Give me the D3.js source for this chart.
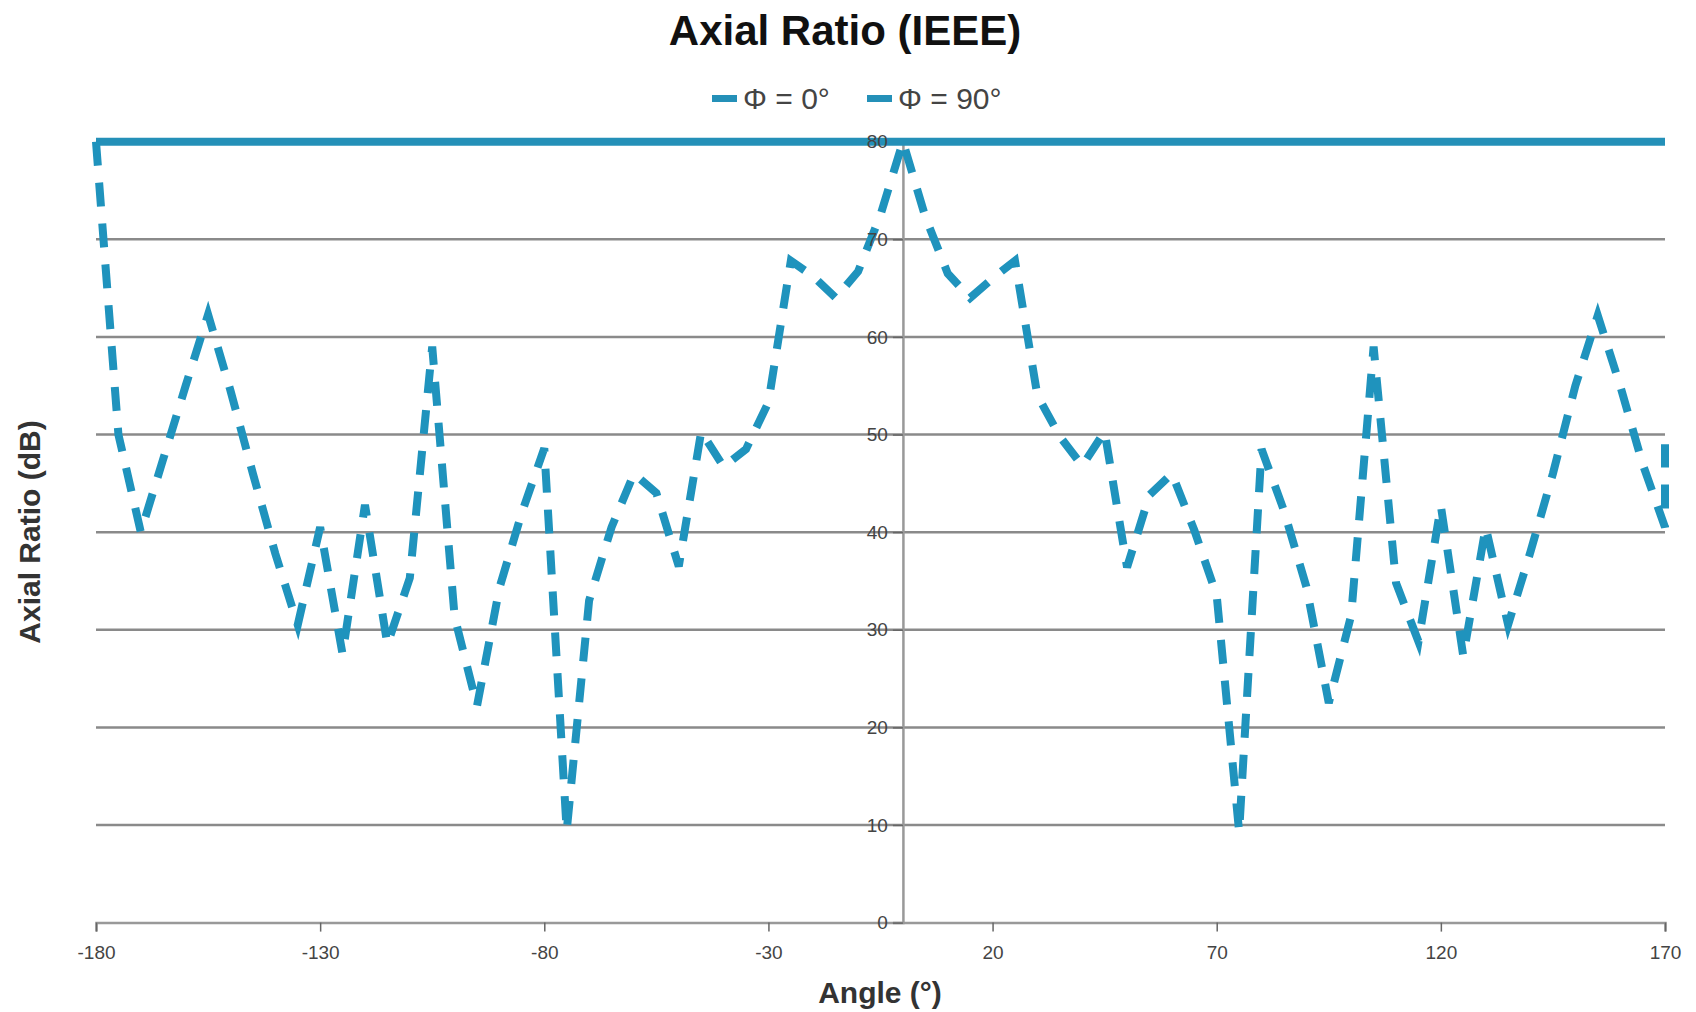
<!DOCTYPE html>
<html>
<head>
<meta charset="utf-8">
<script src="https://cdn.jsdelivr.net/npm/d3@7/dist/d3.min.js"></script>
<style>
    body { margin: 0; background: #fff; }
    svg { display: block; font-family: "Liberation Sans", Arial, sans-serif; }
</style>
</head>
<body>
<svg class="chart"></svg>
<script>
// angles in degrees, one full turn in 5 degree steps
const ANGLES = [-180, -175, -170, -165, -160, -155, -150, -145, -140, -135,
    -130, -125, -120, -115, -110, -105, -100, -95, -90, -85,
    -80, -75, -70, -65, -60, -55, -50, -45, -40, -35,
    -30, -25, -20, -15, -10, -5, 0, 5, 10, 15,
    20, 25, 30, 35, 40, 45, 50, 55, 60, 65,
    70, 75, 80, 85, 90, 95, 100, 105, 110, 115,
    120, 125, 130, 135, 140, 145, 150, 155, 160, 165,
    170, 175
];

// axial ratio in dB
const PHI_0 = [80, 80, 80, 80, 80, 80, 80, 80, 80, 80,
    80, 80, 80, 80, 80, 80, 80, 80, 80, 80,
    80, 80, 80, 80, 80, 80, 80, 80, 80, 80,
    80, 80, 80, 80, 80, 80, 80, 80, 80, 80,
    80, 80, 80, 80, 80, 80, 80, 80, 80, 80,
    80, 80, 80, 80, 80, 80, 80, 80, 80, 80,
    80, 80, 80, 80, 80, 80, 80, 80, 80, 80,
    80, 80
];

const PHI_90 = [80, 50, 40, 47.5, 55, 62.3, 54.5, 46, 37.8, 30.5,
    40.5, 27.5, 42.8, 28.5, 35.3, 59, 31.3, 22.2, 34.3, 42,
    48.6, 9.4, 33, 40.5, 46, 44, 36.5, 50.3, 46.7, 48.5,
    53.3, 67.8, 66.2, 64, 66.7, 72.5, 80, 72.3, 66.5, 64,
    66, 67.8, 54, 49.8, 46.8, 50.3, 36.4, 43.8, 46, 40.2,
    33.5, 9.3, 48.5, 42.2, 34.4, 22.5, 31.5, 59, 34.8, 28.8,
    42.7, 27.3, 40.5, 30.5, 38, 46, 55, 62.2, 55, 47,
    40.5, 49
];

const SERIES_NAMES = ["Φ = 0°", "Φ = 90°"];
const X_TICKS = [-180, -130, -80, -30, 20, 70, 120, 170];
const Y_TICKS = [0, 10, 20, 30, 40, 50, 60, 70, 80];

const WIDTH = 1696;
const HEIGHT = 1012;
const margins = { top: 141.7, right: 31, bottom: 89.4, left: 96 };
const LINE_COLOR = '#2490b8';

const svg = d3.select('.chart')
    .attr('width', WIDTH)
    .attr('height', HEIGHT);

const x = d3.scaleLinear()
    .domain([-180, 170])
    .range([margins.left, WIDTH - margins.right])
    .clamp(true); // the 175 point sits on the right edge, as in the original

const y = d3.scaleLinear()
    .domain([0, 80])
    .range([HEIGHT - margins.bottom, margins.top]);

// title
svg.append('text')
    .attr('x', 845)
    .attr('y', 45)
    .attr('text-anchor', 'middle')
    .style('font-size', '42px')
    .style('font-weight', 'bold')
    .style('fill', '#111')
    .text('Axial Ratio (IEEE)');

// legend
const legendX = [712, 867];
SERIES_NAMES.forEach((name, i) => {
    svg.append('line')
        .attr('x1', legendX[i]).attr('x2', legendX[i] + 25)
        .attr('y1', 98.5).attr('y2', 98.5)
        .attr('stroke', LINE_COLOR)
        .attr('stroke-width', 7);
    svg.append('text')
        .attr('x', legendX[i] + 31)
        .attr('y', 109)
        .style('font-size', '30px')
        .style('fill', '#444')
        .text(name);
});

// horizontal grid
svg.append('g')
    .selectAll('line')
    .data(Y_TICKS.filter(d => d > 0))
    .enter()
    .append('line')
    .attr('x1', x(-180)).attr('x2', x(170))
    .attr('y1', d => y(d)).attr('y2', d => y(d))
    .attr('stroke', '#8a8a8a')
    .attr('stroke-width', 2.5);

// x axis along y = 0, plain hyphen for negatives
const xAxis = svg.append('g')
    .attr('transform', 'translate(0,' + y(0) + ')')
    .call(d3.axisBottom(x).tickValues(X_TICKS).tickFormat(d => String(d)).tickSize(9).tickPadding(14));
xAxis.select('.domain').attr('stroke', '#999').attr('stroke-width', 2.5);
xAxis.selectAll('.tick line').attr('stroke', '#666').attr('stroke-width', 1.5);
xAxis.selectAll('.tick text')
    .style('font-size', '19px')
    .style('font-family', '"Liberation Sans", Arial, sans-serif')
    .style('fill', '#444');

// y axis through angle 0
const yAxis = svg.append('g')
    .attr('transform', 'translate(' + x(0) + ',0)')
    .call(d3.axisLeft(y).tickValues(Y_TICKS).tickSize(10).tickPadding(5));
yAxis.select('.domain').attr('stroke', '#999').attr('stroke-width', 2.5);
yAxis.selectAll('.tick line').attr('stroke', '#666').attr('stroke-width', 1.5);
yAxis.selectAll('.tick text').remove();

// series
const line = d3.line()
    .x((d, i) => x(ANGLES[i]))
    .y(d => y(d));

svg.append('path')
    .datum(PHI_0)
    .attr('d', line)
    .attr('fill', 'none')
    .attr('stroke', LINE_COLOR)
    .attr('stroke-width', 8);

svg.append('path')
    .datum(PHI_90)
    .attr('d', line)
    .attr('fill', 'none')
    .attr('stroke', '#1f93bd')
    .attr('stroke-width', 8)
    .attr('stroke-dasharray', '24,17');

// y tick labels sit on top of the lines
svg.append('g')
    .selectAll('text')
    .data(Y_TICKS)
    .enter()
    .append('text')
    .attr('x', x(0) - 15)
    .attr('y', d => y(d))
    .attr('dy', '0.35em')
    .attr('text-anchor', 'end')
    .style('font-size', '19px')
    .style('fill', '#444')
    .text(d => d);

// axis titles
svg.append('text')
    .attr('x', 880)
    .attr('y', 1003)
    .attr('text-anchor', 'middle')
    .style('font-size', '30px')
    .style('font-weight', 'bold')
    .style('fill', '#333')
    .text('Angle (°)');

svg.append('text')
    .attr('transform', 'translate(40,532) rotate(-90)')
    .attr('text-anchor', 'middle')
    .style('font-size', '30px')
    .style('font-weight', 'bold')
    .style('fill', '#333')
    .text('Axial Ratio (dB)');
</script>
</body>
</html>
